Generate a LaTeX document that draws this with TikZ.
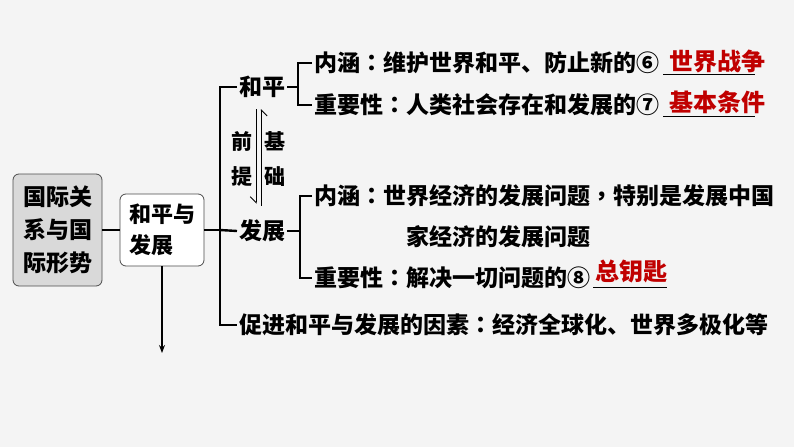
\documentclass[tikz,border=0pt]{standalone}
\usepackage{fontspec}
\setmainfont{Noto Sans CJK SC}
\newfontfamily\punct{Noto Sans CJK TC}
\usetikzlibrary{arrows.meta,positioning,calc}
\definecolor{bgcolor}{HTML}{F4F4F4}
\definecolor{ansred}{HTML}{C00000}
\definecolor{boxgray}{HTML}{D9D9D9}
\tikzset{
  txt/.style={anchor=west,inner sep=2pt,font=\fontsize{23}{27}\selectfont\bfseries},
  ans/.style={inner sep=0pt,text=ansred,font=\fontsize{24}{28}\selectfont\bfseries},
  bigbox/.style={draw=black!70,rounded corners=6pt,line width=0.8pt,align=center,inner sep=0pt},
  bar/.style={line width=2.4pt},
  blank/.style={line width=1pt},
}

\begin{document}
\begin{tikzpicture}[x=1pt,y=-1pt]
        \fill[bgcolor] (0,0) rectangle (794,447);
        \useasboundingbox (0,0) rectangle (794,447);
        % left boxes
        \node[bigbox,fill=boxgray,minimum width=89pt,minimum height=112pt,
              font=\fontsize{23}{33}\selectfont\bfseries] (guoji) at (57.5,230) {国际关\\系与国\\际形势};
        \node[bigbox,fill=white,minimum width=84pt,minimum height=72pt,align=left,
              font=\fontsize{22}{31}\selectfont\bfseries] (hpfz) at (162,230) {和平与\\发展};
        \coordinate (down) at (162,353);
        \coordinate (trunk) at (220,230);
        \draw[line width=1.2pt] (guoji) -- (hpfz);
        \draw[line width=1.4pt,-{Stealth[length=8pt,width=6pt]}] (hpfz) -- (down);
        % second level
        \node[txt] (heping) at (237,87) {和平};
        \node[txt] (fazhan) at (237,231) {发展};
        \node[txt] (cujin) at (237,325) {促进和平与发展的因素{\punct ：}经济全球化、世界多极化等};
        \draw[bar] (hpfz.east) -- (trunk);
        \draw[bar] (trunk) -- (fazhan.west);
        \draw[bar] (heping.west) -| (trunk) |- (cujin.west);
        % peace and development
        \draw[line width=0.8pt,-{Straight Barb[right,length=6pt]},shorten <=9pt,shorten >=14pt]
            ([xshift=-6pt]heping.south) -- node[left=0pt,align=center,font=\fontsize{21}{35}\selectfont\bfseries] (qianti) {前\\提} ([xshift=-6pt]fazhan.north);
        \draw[line width=0.8pt,-{Straight Barb[right,length=6pt]},shorten <=12pt,shorten >=9pt]
            ([xshift=-1pt]fazhan.north) -- node[right=0pt,align=center,font=\fontsize{21}{35}\selectfont\bfseries] (jichu) {基\\础} ([xshift=-1pt]heping.south);
        % peace
        \coordinate (b1) at (298,87);
        \node[txt] (hpnh) at (312,63) {内涵{\punct ：}维护世界和平、防止新的⑥};
        \node[txt] (hpzy) at (312,105) {重要性{\punct ：}人类社会存在和发展的⑦};
        \node[ans] (ans6) at (717,61) {世界战争};
        \node[ans] (ans7) at (717,102) {基本条件};
        \draw[bar] (heping.east) -- (b1);
        \draw[bar] (hpnh.west) -| (b1) |- (hpzy.west);
        \draw[blank] (663,74) -- (755,74);
        \draw[blank] (663,116) -- (755,116);
        % development
        \coordinate (b2) at (300,231);
        \node[txt] (fznh) at (312,196) {内涵{\punct ：}世界经济的发展问题{\punct ，}特别是发展中国};
        \node[txt] (fznh2) at (404,237) {家经济的发展问题};
        \node[txt] (fzzy) at (312,278) {重要性{\punct ：}解决一切问题的⑧};
        \node[ans] (ans8) at (631,271) {总钥匙};
        \draw[bar] (fazhan.east) -- (b2);
        \draw[bar] (fznh.west) -| (b2) |- (fzzy.west);
        \draw[blank] (593,287) -- (667,287);
\end{tikzpicture}
\end{document}
